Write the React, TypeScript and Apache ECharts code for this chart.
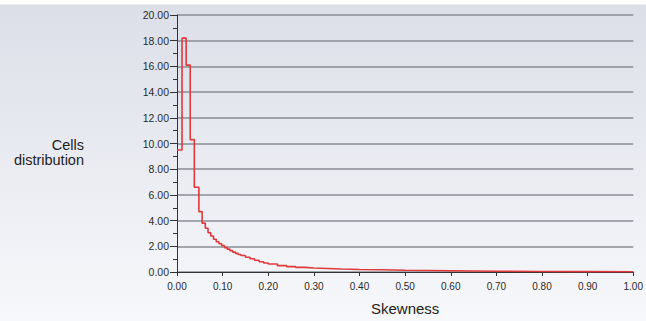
import React, { useEffect, useRef } from "react";
import * as echarts from "echarts";

// Bin start (skewness) and cells distribution value for each step
const skewness = [
  0.0, 0.011, 0.02, 0.029, 0.038, 0.048, 0.055, 0.062, 0.068, 0.074, 0.08, 0.086,
  0.092, 0.098, 0.104, 0.11, 0.116, 0.122, 0.128, 0.134, 0.14, 0.15, 0.16, 0.17,
  0.18, 0.19, 0.2, 0.22, 0.24, 0.26, 0.28, 0.3, 0.33, 0.36, 0.4, 0.45, 0.5, 0.55,
  0.6, 0.65, 0.7, 0.8, 0.9, 1.0,
];
const cells = [
  9.5, 18.2, 16.1, 10.3, 6.6, 4.7, 3.8, 3.4, 3.05, 2.8, 2.55, 2.35,
  2.2, 2.05, 1.9, 1.78, 1.66, 1.55, 1.45, 1.36, 1.28, 1.15, 1.03, 0.92,
  0.8, 0.7, 0.62, 0.5, 0.42, 0.36, 0.31, 0.27, 0.23, 0.2, 0.17, 0.14, 0.12, 0.1,
  0.08, 0.06, 0.04, 0.03, 0.02, 0.02,
];
const xTicks = [0, 0.1, 0.2, 0.3, 0.4, 0.5, 0.6, 0.7, 0.8, 0.9, 1.0];
const yTicks = [0, 2, 4, 6, 8, 10, 12, 14, 16, 18, 20];

const FONT = "Liberation Sans, Arial, sans-serif";

export default function App() {
  const ref = useRef<HTMLDivElement>(null);
  useEffect(() => {
    if (!ref.current) return;
    const chart = echarts.init(ref.current, undefined, { renderer: "svg" });
    const data = skewness.map((x, i) => [x, cells[i]]);
    chart.setOption({
      animation: false,
      grid: { left: 177, right: 9, top: 15, bottom: 45, containLabel: false },
      xAxis: {
        type: "value",
        min: xTicks[0],
        max: xTicks[xTicks.length - 1],
        interval: 0.1,
        name: "Skewness",
        nameLocation: "middle",
        nameGap: 29,
        nameTextStyle: { fontFamily: FONT, fontSize: 15, color: "#222" },
        axisLine: { show: true, lineStyle: { color: "#333", width: 1 } },
        axisTick: { show: true, inside: false, length: 4, lineStyle: { color: "#333" } },
        axisLabel: {
          fontFamily: FONT,
          fontSize: 10,
          color: "#2a2a2a",
          margin: 9,
          formatter: (v: number) => v.toFixed(2),
        },
        splitLine: { show: false },
      },
      yAxis: {
        type: "value",
        min: yTicks[0],
        max: yTicks[yTicks.length - 1],
        interval: 2,
        axisLine: { show: true, lineStyle: { color: "#333", width: 1 } },
        axisTick: { show: true, length: 7, lineStyle: { color: "#333" } },
        minorTick: { show: true, splitNumber: 2, length: 4, lineStyle: { color: "#333" } },
        axisLabel: {
          fontFamily: FONT,
          fontSize: 10.5,
          color: "#2a2a2a",
          margin: 8,
          formatter: (v: number) => v.toFixed(2),
        },
        splitLine: { show: true, lineStyle: { color: "#8a8d94", width: 1.5 } },
      },
      graphic: [
        {
          type: "text",
          x: 84,
          y: 145,
          style: {
            text: "Cells",
            font: "14.5px " + FONT,
            fill: "#222",
            align: "right",
            verticalAlign: "middle",
          },
        },
        {
          type: "text",
          x: 84,
          y: 159.5,
          style: {
            text: "distribution",
            font: "14.5px " + FONT,
            fill: "#222",
            align: "right",
            verticalAlign: "middle",
          },
        },
      ],
      series: [
        {
          type: "line",
          step: "end",
          data,
          symbol: "none",
          lineStyle: { color: "#e0393b", width: 1.6 },
        },
      ],
    });
    return () => chart.dispose();
  }, []);
  return (
    <div
      ref={ref}
      style={{
        position: "absolute",
        left: 0,
        top: 0,
        width: 646,
        height: 321,
        background:
          "linear-gradient(#ffffff 0px, #ffffff 4px, #dcdfe8 5px, #f7f8fb 321px)",
      }}
    />
  );
}
